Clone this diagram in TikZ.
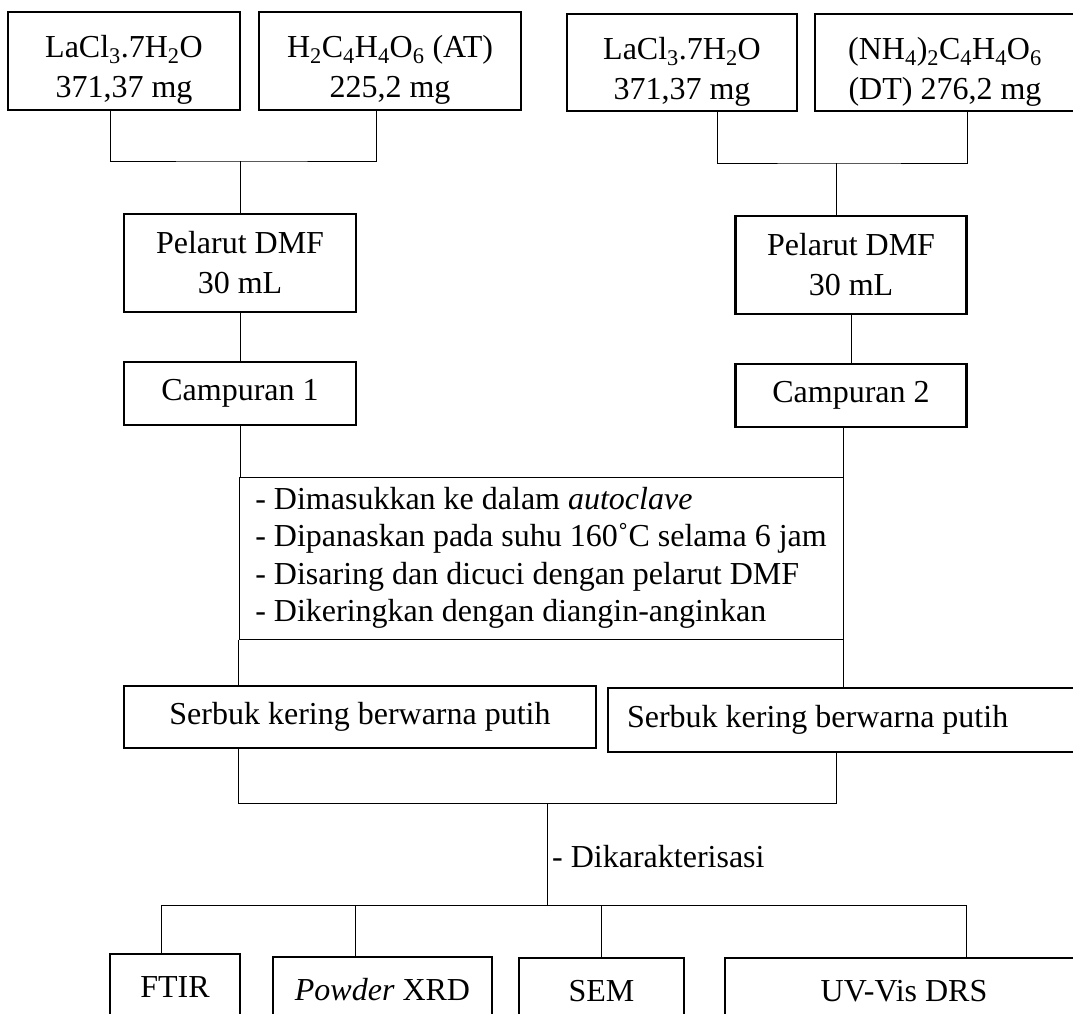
\documentclass[tikz,border=0pt]{standalone}
\usepackage{fontspec}
\setmainfont{Liberation Serif}

\begin{document}
\begin{tikzpicture}[x=1pt, y=-1pt,
  box/.style={draw, line width=2.5pt, inner sep=0pt, align=center, font=\fontsize{32}{40}\selectfont},
  lowtext/.style={text height=80pt},
  link/.style={draw, line width=1pt}
]
\useasboundingbox (0,0) rectangle (1073,1013);

% Bahan awal
\node[box, lowtext, minimum width=232pt, minimum height=98pt] (la1) at (124,61) {LaCl\textsubscript{3}.7H\textsubscript{2}O\\371,37 mg};
\node[box, lowtext, minimum width=262pt, minimum height=98pt] (at) at (390,61) {H\textsubscript{2}C\textsubscript{4}H\textsubscript{4}O\textsubscript{6} (AT)\\225,2 mg};
\node[box, lowtext, minimum width=230pt, minimum height=97pt] (la2) at (682,62.5) {LaCl\textsubscript{3}.7H\textsubscript{2}O\\371,37 mg};
\node[box, lowtext, minimum width=260pt, minimum height=97pt] (dt) at (945,62.5) {(NH\textsubscript{4})\textsubscript{2}C\textsubscript{4}H\textsubscript{4}O\textsubscript{6}\\(DT) 276,2 mg};

% Pelarut dan campuran
\node[box, minimum width=232pt, minimum height=98pt] (dmf1) at (240,263) {Pelarut DMF\\30 mL};
\node[box, minimum width=231pt, minimum height=98pt] (dmf2) at (851,265) {Pelarut DMF\\30 mL};
\node[box, minimum width=232pt, minimum height=63pt] (c1) at (240,393.5) {Campuran 1};
\node[box, minimum width=231pt, minimum height=63pt] (c2) at (851,395.5) {Campuran 2};

% Proses
\node[draw, line width=1pt, minimum width=604pt, minimum height=162pt, inner sep=0pt, align=left,
  font=\fontsize{32}{37.5}\selectfont] (proc) at (541,558) {- Dimasukkan ke dalam \textit{autoclave}\\- Dipanaskan pada suhu 160˚C selama 6 jam\\- Disaring dan dicuci dengan pelarut DMF\\- Dikeringkan dengan diangin-anginkan};

% Hasil
\node[box, minimum width=472pt, minimum height=62pt] (s1) at (360,717) {Serbuk kering berwarna putih};
\node[box, minimum height=64pt, text width=440pt, inner xsep=19pt, align=flush left] (s2) at (847,720) {Serbuk kering berwarna putih};
\node[anchor=west, inner sep=0pt, font=\fontsize{32}{40}\selectfont] (char) at (552,857) {- Dikarakterisasi};

% Karakterisasi
\node[box, minimum width=130pt, minimum height=66pt] (ftir) at (175,987) {FTIR};
\node[box, minimum width=219pt, minimum height=66pt] (xrd) at (382.5,990) {\textit{Powder} XRD};
\node[box, minimum width=165pt, minimum height=66pt] (sem) at (601.5,991) {SEM};
\node[box, minimum width=358pt, minimum height=66pt] (uv) at (904,991) {UV-Vis DRS};

% Garis
\coordinate (j1) at (240,161);
\coordinate (j2) at (836,163);
\coordinate (j3) at (547,803);
\coordinate (j4) at (547,905);

\draw[link] ([xshift=-14pt]la1.south) |- (j1) -| ([xshift=-14pt]at.south);
\draw[link] (j1) -- (dmf1.north);
\draw[link] ([xshift=35pt]la2.south) |- (j2) -| ([xshift=22pt]dt.south);
\draw[link] (j2) -- (j2 |- dmf2.north);
\draw[link] (dmf1) -- (c1);
\draw[link] (dmf2) -- (c2);
\draw[link] (c1.south) -- (c1.south |- proc.north);
\draw[link] (c2.south -| proc.east) -- (proc.north east);
\draw[link] (proc.south west) -- (proc.south west |- s1.north);
\draw[link] (proc.south east) -- (proc.south east |- s2.north);
\draw[link] (s1.south -| proc.west) |- (j3) -| ([xshift=-11pt]s2.south);
\draw[link] (j3) -- (j4);
\draw[link] (j4) -| ([xshift=-14pt]ftir.north);
\draw[link] (j4) -| ([xshift=-27pt]xrd.north);
\draw[link] (j4) -| (sem.north);
\draw[link] (j4) -| ([xshift=62pt]uv.north);

\end{tikzpicture}
\end{document}
